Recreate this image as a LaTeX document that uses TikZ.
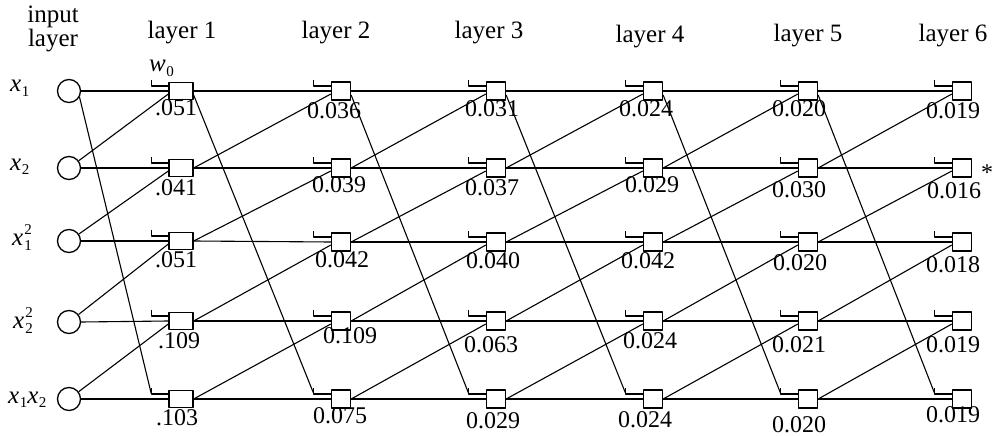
\documentclass[tikz,border=0pt]{standalone}
\usepackage{fontspec}
\setmainfont{Liberation Serif}
\newcommand\xsub[1]{\textit{x}\kern0.5pt\raisebox{-0.35ex}{\fontsize{15}{15}\selectfont #1}}
\newcommand\xsubsup[2]{\textit{x}\kern1pt\rlap{\raisebox{0.9ex}{\fontsize{15}{15}\selectfont #2}}\raisebox{-0.45ex}{\fontsize{15}{15}\selectfont #1}}
\begin{document}
\begin{tikzpicture}[x=1pt,y=-1pt,
  inbox/.style={draw, line width=1.3pt, circle, minimum size=23pt, inner sep=0},
  firstbox/.style={draw, line width=1.3pt, minimum width=24pt, minimum height=17pt, inner sep=0},
  unitbox/.style={draw, line width=1.3pt, minimum width=19pt, minimum height=18pt, inner sep=0},
  wire/.style={line width=1.1pt},
  num/.style={font=\fontsize{24}{24}\selectfont, anchor=base, inner sep=0},
  head/.style={font=\fontsize{25}{25}\selectfont, anchor=base, inner sep=0},
  var/.style={font=\fontsize{25}{25}\selectfont, anchor=base west, inner sep=0},
  line join=round]
\useasboundingbox (0,0) rectangle (1002,436);

% input layer
\foreach \i/\y in {1/91,2/168,3/241,4/322,5/399}
  \node[inbox] (c\i) at (69,\y) {};
% layer 1
\foreach \i/\y in {1/91,2/168,3/241,4/321,5/399}
  \node[firstbox] (n1\i) at (181,\y) {};
% layers 2-6
\foreach \k/\x in {2/341,3/496,4/653,5/808,6/962}
  \foreach \i/\y in {1/91,2/168,3/242,4/321,5/399}
    \node[unitbox] (n\k\i) at (\x,\y) {};

% bias brackets
\foreach \k in {1,...,6}
  \foreach \i in {1,...,5} {
    \coordinate (b\k\i) at ([xshift=-17pt,yshift=5pt]n\k\i.west);
    \draw[wire] ([yshift=6pt]b\k\i) -- (b\k\i) -- (b\k\i -| n\k\i.west);
  }

% connections from input layer
\foreach \i in {1,...,5}
  \draw[wire] (c\i.east) -- (n1\i.west);
\foreach \i/\j in {1/2,2/3,3/4,4/5}
  \draw[wire] (c\j) -- ([yshift=-3pt]n1\i.west);
\draw[wire] (c1.-30) -- (b15);

% connections between hidden layers
\foreach \k/\p in {2/1,3/2,4/3,5/4,6/5} {
  \foreach \i in {1,...,5}
    \draw[wire] (n\p\i.east) -- (n\k\i.west);
  \foreach \i/\j in {1/2,2/3,3/4,4/5}
    \draw[wire] (n\p\j.east) -- ([yshift=-3pt]n\k\i.west);
  \draw[wire] ([yshift=-4pt]n\p1.east) -- (b\k5);
}

% headers
\node[head, anchor=north, align=center, font=\fontsize{25}{16.5}\selectfont] (hin) at (53,6) {input\\layer};
\foreach \k/\x/\y in {1/182/39,2/336/39,3/489/39,4/650/43,5/808/42,6/953/42}
  \node[head] (h\k) at (\x,\y) {layer \k};

% variable labels
\node[var] (v1) at (10,92) {\xsub{1}};
\node[var] (v2) at (10,170) {\xsub{2}};
\node[var] (v3) at (12,245) {\xsubsup{1}{2}};
\node[var] (v4) at (13,328) {\xsubsup{2}{2}};
\node[var] (v5) at (8,403) {\xsub{1}\xsub{2}};
\node[var] (w0) at (149,72) {\textit{w}\kern0.5pt\raisebox{-0.35ex}{\fontsize{15}{15}\selectfont 0}};
\node[num] (star) at (987,180) {*};

% numbers
\foreach \k/\i/\x/\y/\t in {
  1/1/176/116/.051, 1/2/176/195/.041, 1/3/176/267/.051, 1/4/179/348/.109, 1/5/177/425/.103,
  2/1/334/118/0.036, 2/2/339/192/0.039, 2/3/342/267/0.042, 2/4/350/343/0.109, 2/5/340/423/0.075,
  3/1/492/117/0.031, 3/2/492/195/0.037, 3/3/493/268/0.040, 3/4/491/352/0.063, 3/5/493/428/0.029,
  4/1/646/117/0.024, 4/2/652/192/0.029, 4/3/648/268/0.042, 4/4/650/348/0.024, 4/5/645/427/0.024,
  5/1/799/117/0.020, 5/2/799/197/0.030, 5/3/800/270/0.020, 5/4/799/352/0.021, 5/5/799/432/0.020,
  6/1/953/118/0.019, 6/2/954/198/0.016, 6/3/953/272/0.018, 6/4/953/352/0.019, 6/5/953/422/0.019}
  \node[num] (l\k\i) at (\x,\y) {\t};
\end{tikzpicture}
\end{document}
